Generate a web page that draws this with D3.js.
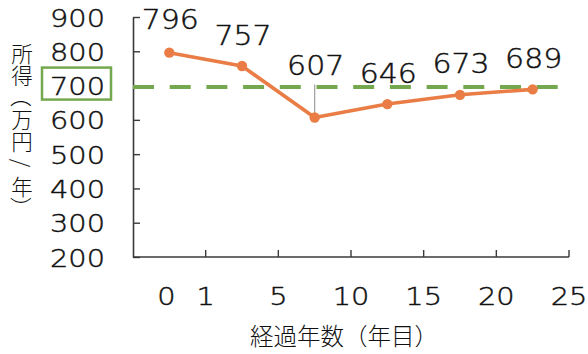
<!DOCTYPE html>
<html>
<head>
<meta charset="utf-8">
<script src="https://cdn.jsdelivr.net/npm/d3@7/dist/d3.min.js"></script>
<style>
  html, body { margin: 0; padding: 0; background: #fff; }
  svg { display: block; }
</style>
</head>
<body>
<svg id="chart" width="588" height="354"></svg>
<script>
// Income by years elapsed
const categories = ["0-1", "1-5", "5-10", "10-15", "15-20", "20-25"];
const income = [796, 757, 607, 646, 673, 689];
const xTickLabels = ["0", "1", "5", "10", "15", "20", "25"];
const yTicks = [200, 300, 400, 500, 600, 700, 800, 900];
const referenceLevel = 700;
const yTitle = "所得（万円/年）";
const xTitle = "経過年数（年目）";

const W = 588, H = 354;
const margin = { left: 133, right: 19, top: 17, bottom: 97 };
const ORANGE = "#E97D45";
const GREEN = "#74A84E";
const AXIS = "#3a3a3a";
const NUM_FONT = "'DejaVu Sans', sans-serif";
const JP_FONT = "'Noto Sans CJK JP', sans-serif";
const NUM_STRETCH = 1.13;

const svg = d3.select("#chart");

const x = d3.scaleBand()
  .domain(categories)
  .range([margin.left, W - margin.right])
  .paddingInner(0).paddingOuter(0);

const y = d3.scaleLinear()
  .domain([200, 900])
  .range([H - margin.bottom, margin.top]);

const cx = d => x(d) + x.bandwidth() / 2;

// horizontally stretched, light numeric text
function numText(g, tx, ty, str, anchor, size) {
  return g.append("text")
    .attr("transform", `translate(${tx},${ty}) scale(${NUM_STRETCH},1)`)
    .attr("text-anchor", anchor)
    .attr("font-family", NUM_FONT)
    .attr("font-weight", 200)
    .attr("font-size", size)
    .attr("fill", "#111")
    .attr("stroke", "#111")
    .attr("stroke-width", 0.45)
    .text(str);
}

// Y axis
const yAxis = svg.append("g")
  .attr("transform", `translate(${margin.left},0)`)
  .call(d3.axisRight(y).tickValues(yTicks).tickSize(7).tickSizeOuter(0).tickFormat(""));
yAxis.select(".domain").attr("stroke", AXIS).attr("stroke-width", 1.6);
yAxis.selectAll(".tick line").attr("stroke", AXIS).attr("stroke-width", 1.4);

const yLabels = svg.append("g");
yTicks.forEach(v => {
  numText(yLabels, 105, y(v) + 9.5, String(v), "end", 25.5);
});

// X axis with ticks at band boundaries
const xEdges = categories.map(c => x(c) + x.bandwidth());
const xAxisG = svg.append("g").attr("transform", `translate(0,${y(200)})`);
xAxisG.append("line")
  .attr("x1", margin.left).attr("x2", W - margin.right)
  .attr("y1", 0).attr("y2", 0)
  .attr("stroke", AXIS).attr("stroke-width", 1.6);
xAxisG.selectAll("line.tick")
  .data(xEdges).enter().append("line")
  .attr("class", "tick")
  .attr("x1", d => d).attr("x2", d => d)
  .attr("y1", 0).attr("y2", -7)
  .attr("stroke", AXIS).attr("stroke-width", 1.4);

const xLabelG = svg.append("g");
xTickLabels.forEach((t, i) => {
  const px = i === 0 ? cx(categories[0]) - 3 : xEdges[i - 1];
  numText(xLabelG, px, 305, t, "middle", 25.5);
});

// reference level (dashed)
svg.append("line")
  .attr("x1", margin.left).attr("x2", W - margin.right)
  .attr("y1", y(referenceLevel) + 1.5).attr("y2", y(referenceLevel) + 1.5)
  .attr("stroke", GREEN).attr("stroke-width", 4)
  .attr("stroke-dasharray", "21,15.7");

// box around the reference tick label
svg.append("rect")
  .attr("x", 42).attr("y", y(referenceLevel) - 18)
  .attr("width", 69).attr("height", 32)
  .attr("fill", "none").attr("stroke", GREEN).attr("stroke-width", 2.5);

// income line
const line = d3.line().x((d, i) => cx(categories[i])).y(d => y(d));
svg.append("path")
  .datum(income)
  .attr("d", line)
  .attr("fill", "none")
  .attr("stroke", ORANGE)
  .attr("stroke-width", 3.6)
  .attr("stroke-linejoin", "round");

// leader line for the lowest point label
const leaderIdx = 2;
svg.append("line")
  .attr("x1", cx(categories[leaderIdx])).attr("x2", cx(categories[leaderIdx]))
  .attr("y1", y(income[leaderIdx]) - 33).attr("y2", y(income[leaderIdx]))
  .attr("stroke", "#9e9e9e").attr("stroke-width", 1.2);

svg.selectAll("circle.pt")
  .data(income).enter().append("circle")
  .attr("class", "pt")
  .attr("cx", (d, i) => cx(categories[i]))
  .attr("cy", d => y(d))
  .attr("r", 5.2)
  .attr("fill", ORANGE);

// value labels (raised above each point)
const labelRaise = [24, 21, 42, 21, 22, 21];
const valG = svg.append("g");
income.forEach((v, i) => {
  numText(valG, cx(categories[i]) + 1, y(v) - labelRaise[i], String(v), "middle", 26.5);
});

// vertical y-axis title: one character per cell, brackets and slash turned sideways
const yTitleChars = Array.from(yTitle);
const cell = 22.2, titleTop = 41;
const yTitleG = svg.append("g");
yTitleChars.forEach((ch, i) => {
  const cy = titleTop + cell * (i + 0.5);
  const turned = "（）/".includes(ch);
  yTitleG.append("g")
    .attr("transform", `translate(22,${cy})` + (turned ? " rotate(90)" : ""))
    .append("text")
    .attr("text-anchor", "middle")
    .attr("dominant-baseline", "central")
    .attr("font-family", JP_FONT)
    .attr("font-weight", 300)
    .attr("font-size", 21.5)
    .attr("fill", "#111")
    .text(ch);
});

svg.append("text")
  .attr("x", 344).attr("y", 345)
  .attr("text-anchor", "middle")
  .attr("font-family", JP_FONT)
  .attr("font-weight", 300)
  .attr("font-size", 23.5)
  .attr("fill", "#111")
  .text(xTitle);
</script>
</body>
</html>
